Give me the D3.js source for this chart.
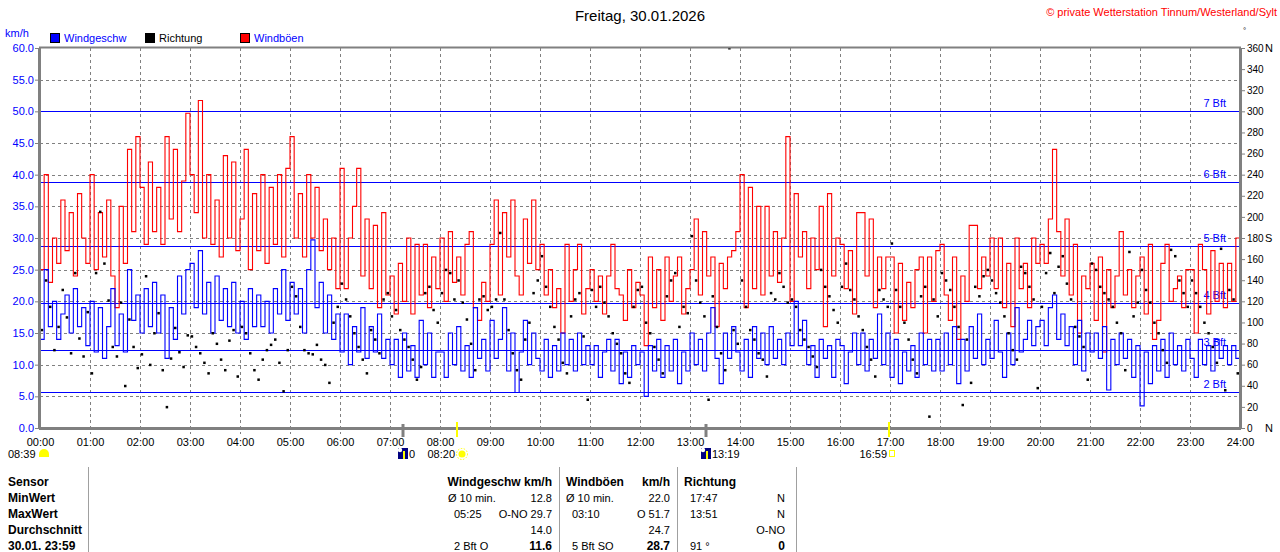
<!DOCTYPE html>
<html lang="de">
<head>
<meta charset="UTF-8">
<title>Wind Freitag, 30.01.2026</title>
<script src="https://d3js.org/d3.v7.min.js"></script>
<style>
  body { margin: 0; background: #fff; }
  svg { display: block; font-family: "Liberation Sans", Arial, sans-serif; }
</style>
</head>
<body>
<svg id="chart" width="1280" height="552"></svg>
<script>
// 5-minute readings, one row per hour (00:00 ... 23:55), last value = 24:00
const gusts = [
  25, 40, 23, 30, 26, 36, 28, 34, 24, 37, 30, 26,
  40, 25, 34, 27, 36, 24, 19, 35, 26, 44, 31, 46,
  38, 29, 42, 31, 38, 29, 46, 33, 44, 31, 39, 49.7,
  40, 34, 51.7, 30, 40, 29, 36, 27, 43, 30, 42, 28,
  33, 44, 25, 37, 28, 40, 26, 38, 29, 40, 27, 41,
  46, 30, 37, 27, 40, 30, 38, 28, 33, 25, 30, 22,
  41, 22, 30, 35, 41, 24, 33, 22, 32, 19, 34, 21,
  24, 18, 26, 20, 30, 18, 29, 21, 29, 19, 27, 22,
  30, 20, 31, 23, 27, 21, 29, 31, 19, 17, 23, 20,
  29, 36, 21, 34, 27, 36, 24, 21, 33, 26, 36, 25,
  29, 21, 25, 19, 22, 15, 29, 20, 25, 29, 18, 22,
  25, 20, 24, 18, 24, 29, 22, 21, 17, 25, 19, 23,
  21, 13, 27, 19, 25, 17, 27, 20, 24, 27, 18, 22,
  25, 33, 21, 31, 24, 27, 16, 26, 22, 27, 28, 31,
  40, 19, 38, 22, 35, 21, 35, 24, 31, 23, 30, 46,
  20, 37, 27, 31, 22, 30, 25, 35, 16, 37, 24, 30,
  29, 22, 28, 18, 34, 34, 24, 33, 19, 27, 22, 27,
  27, 15, 26, 17, 23, 19, 25, 27, 15, 27, 20, 28,
  29, 21, 17, 27, 14, 24, 20, 32, 32, 22, 27, 24,
  30, 22, 30, 19, 26, 16, 30, 22, 26, 19, 30, 26,
  29, 26, 33, 44, 31, 24, 33, 21, 29, 15, 24, 22,
  26, 17, 27, 12, 25, 19, 24, 31, 21, 25, 19, 24,
  27, 18, 29, 14, 17, 26, 29, 20, 22, 24, 19, 25,
  25, 15, 29, 25, 18, 28, 20, 26, 19, 26, 20, 30,
  26
];

const windSpeed = [
  14, 25, 16, 20, 14, 18, 21, 15, 22, 16, 19, 13,
  20, 12, 19, 11, 16, 22, 13, 18, 12, 25, 17, 21,
  15, 22, 16, 23, 15, 21, 11, 19, 14, 24, 18, 25,
  26, 19, 28, 18, 23, 15, 24, 17, 22, 16, 23, 15,
  20, 14, 22, 16, 21, 16, 20, 15, 22, 18, 25, 17,
  23, 18, 22, 15, 25, 29.7, 19, 23, 15, 21, 14, 18,
  12, 18, 10, 16, 12, 19, 11, 16, 12, 18, 11, 14,
  10, 14, 8, 15, 9, 13, 8, 17, 10, 15, 8, 12,
  12, 8, 15, 10, 16, 9, 13, 8, 19, 11, 14, 9,
  17, 11, 14, 19, 9, 15, 5.6, 12, 17, 10, 15, 11,
  9, 14, 8, 13, 9, 15, 10, 14, 9, 15, 10, 13,
  10, 13, 8, 12, 14, 9, 14, 7, 12, 8, 13, 10,
  12, 5, 13, 9, 14, 8, 13, 9, 14, 7, 12, 9,
  15, 10, 14, 9, 15, 19, 11, 7, 15, 11, 16, 12,
  9, 14, 8, 16, 11, 15, 10, 16, 11, 14, 10, 15,
  13, 20, 13, 17, 10, 13, 8, 14, 11, 13, 8, 14,
  13, 7, 12, 15, 10, 15, 9, 14, 11, 18, 10, 15,
  8, 14, 7, 12, 9, 13, 8, 15, 10, 14, 9, 14,
  9, 15, 10, 16, 7, 14, 9, 16, 11, 18, 10, 14,
  11, 17, 12, 8, 15, 10, 19, 12, 14, 17, 13, 16,
  17, 13, 19, 21, 14, 18, 13, 16, 10, 17, 9, 15,
  12, 15, 11, 16, 6, 14, 10, 15, 11, 14, 8, 13,
  3.5, 12, 7, 13, 9, 14, 8, 15, 10, 13, 9, 14,
  11, 8, 14, 10, 13, 9, 14, 11, 13, 10, 13, 11,
  12
];

// wind direction in degrees
const direction = [
  93, 140, 115, 74, 96, 131, 105, 71, 147, 85, 68, 110,
  52, 147, 205, 156, 121, 77, 68, 119, 40, 103, 77, 57,
  70, 144, 60, 90, 109, 55, 20, 66, 95, 72, 58, 88,
  87, 77, 71, 62, 52, 90, 80, 65, 55, 83, 93, 49,
  96, 90, 71, 55, 46, 65, 74, 79, 84, 62, 35, 74,
  134, 125, 96, 74, 71, 70, 79, 65, 60, 43, 100, 115,
  137, 122, 106, 90, 77, 65, 52, 93, 84, 71, 122, 128,
  106, 112, 93, 84, 77, 65, 46, 58, 128, 134, 112, 100,
  128, 150, 147, 122, 140, 119, 103, 80, 55, 122, 125, 112,
  115, 122, 185, 122, 93, 71, 55, 46, 84, 100, 128, 140,
  163, 134, 115, 96, 84, 62, 52, 106, 122, 128, 87, 27,
  131, 115, 134, 119, 106, 90, 80, 71, 52, 43, 115, 131,
  134, 100, 90, 77, 65, 52, 125, 140, 147, 96, 115, 109,
  182, 140, 119, 106, 27, 125, 96, 71, 55, 360, 93, 80,
  140, 115, 93, 84, 71, 65, 49, 128, 122, 147, 134, 119,
  122, 115, 93, 84, 77, 68, 58, 150, 134, 125, 112, 100,
  134, 156, 131, 122, 106, 93, 77, 65, 49, 131, 122, 115,
  175, 131, 115, 100, 84, 65, 52, 125, 134, 11, 122, 106,
  147, 140, 131, 115, 96, 22, 84, 43, 134, 125, 144, 150,
  140, 128, 119, 106, 90, 74, 65, 153, 147, 134, 122, 38,
  115, 147, 166, 128, 153, 163, 137, 122, 96, 87, 77, 46,
  156, 150, 134, 128, 122, 115, 100, 90, 55, 167, 106, 119,
  150, 131, 119, 100, 90, 74, 62, 169, 163, 140, 128, 115,
  140, 128, 115, 100, 90, 77, 62, 170, 36, 131, 122, 52
];

const hourLabels = ["00:00","01:00","02:00","03:00","04:00","05:00","06:00","07:00","08:00",
  "09:00","10:00","11:00","12:00","13:00","14:00","15:00","16:00","17:00","18:00","19:00",
  "20:00","21:00","22:00","23:00","24:00"];
const kmhTicks = [0, 5, 10, 15, 20, 25, 30, 35, 40, 45, 50, 55, 60];
const degTicks = [0, 20, 40, 60, 80, 100, 120, 140, 160, 180, 200, 220, 240, 260, 280, 300, 320, 340, 360];
const degNames = { 0: "N", 180: "S", 360: "N" };
const bftLevels = [5.76, 12.24, 19.8, 28.8, 38.88, 50.04];
const bftNames = ["2 Bft", "3 Bft", "4 Bft", "5 Bft", "6 Bft", "7 Bft"];

const tableLabels = ["Sensor", "MinWert", "MaxWert", "Durchschnitt", "30.01. 23:59"];
const speedCol = [["", "Windgeschw km/h"], ["Ø 10 min.", "12.8"], ["05:25", "O-NO 29.7"], ["", "14.0"], ["2 Bft O", "11.6"]];
const gustCol = [["Windböen", "km/h"], ["Ø 10 min.", "22.0"], ["03:10", "O 51.7"], ["", "24.7"], ["5 Bft SO", "28.7"]];
const dirCol = [["Richtung", ""], ["17:47", "N"], ["13:51", "N"], ["", "O-NO"], ["91 °", "0"]];

const svg = d3.select("#chart");
const plotLeft = 40, plotRight = 1240, plotTop = 48, plotBottom = 428;

const x = d3.scaleLinear().domain([0, 1440]).range([plotLeft, plotRight]);
const y = d3.scaleLinear().domain([0, 60]).range([plotBottom, plotTop]);
const yDir = d3.scaleLinear().domain([0, 360]).range([plotBottom, plotTop]);
const minutes = i => i * 5;
const parseTime = s => { const p = s.split(":"); return +p[0] * 60 + +p[1]; };

// title & header texts
svg.append("text").attr("x", 640).attr("y", 21).attr("text-anchor", "middle")
  .attr("font-size", 15).attr("fill", "#000").text("Freitag, 30.01.2026");
svg.append("text").attr("x", 1277).attr("y", 16).attr("text-anchor", "end")
  .attr("font-size", 11).attr("fill", "#ff0000").text("© private Wetterstation Tinnum/Westerland/Sylt");
svg.append("text").attr("x", 1243).attr("y", 33).attr("font-size", 8).text("°");
svg.append("text").attr("x", 5).attr("y", 37).attr("font-size", 11).attr("fill", "#0000ff").text("km/h");

const legend = [
  { name: "Windgeschw", color: "#0000ff", text: "#0000ff", x: 50 },
  { name: "Richtung", color: "#000000", text: "#000000", x: 145 },
  { name: "Windböen", color: "#ff0000", text: "#0000ff", x: 240 }
];
legend.forEach(l => {
  svg.append("rect").attr("x", l.x + 0.5).attr("y", 33.5).attr("width", 9).attr("height", 9)
    .attr("fill", l.color).attr("stroke", "#000");
  svg.append("text").attr("x", l.x + 14).attr("y", 42).attr("font-size", 11)
    .attr("fill", l.text).text(l.name);
});

// grid
const grid = svg.append("g").attr("stroke", "#808080").attr("stroke-dasharray", "3,3");
grid.selectAll(".vg").data(d3.range(1, 24)).enter().append("line")
  .attr("x1", d => Math.round(x(d * 60)) + 0.5).attr("x2", d => Math.round(x(d * 60)) + 0.5)
  .attr("y1", plotTop).attr("y2", plotBottom + 6);
grid.selectAll(".hg").data(kmhTicks.slice(1, -1)).enter().append("line")
  .attr("x1", plotLeft).attr("x2", plotRight)
  .attr("y1", d => Math.round(y(d)) + 0.5).attr("y2", d => Math.round(y(d)) + 0.5);

// Beaufort lines
svg.selectAll(".bft").data(bftLevels).enter().append("line")
  .attr("x1", plotLeft).attr("x2", plotRight)
  .attr("y1", d => Math.round(y(d)) + 0.5).attr("y2", d => Math.round(y(d)) + 0.5)
  .attr("stroke", "#0000ff").attr("stroke-width", 1.2);
svg.selectAll(".bftl").data(bftLevels).enter().append("text")
  .attr("x", 1226).attr("y", d => y(d) - 4).attr("text-anchor", "end")
  .attr("font-size", 11).attr("fill", "#0000ff").text((d, i) => bftNames[i]);

// series
const line = d3.line().x((d, i) => x(minutes(i))).y(d => y(d)).curve(d3.curveStepAfter);
svg.append("path").datum(gusts).attr("d", line).attr("fill", "none")
  .attr("stroke", "#ff0000").attr("stroke-width", 1.1);
svg.append("path").datum(windSpeed).attr("d", line).attr("fill", "none")
  .attr("stroke", "#0000ff").attr("stroke-width", 1.1);
svg.selectAll(".dir").data(direction).enter().append("rect")
  .attr("x", (d, i) => x(minutes(i) + 2) - 1).attr("y", d => yDir(d) - 1)
  .attr("width", 2.5).attr("height", 2.5).attr("fill", "#000");

// axes
const axisLeft = svg.append("g").attr("transform", `translate(${plotLeft},0)`)
  .call(d3.axisLeft(y).tickValues(kmhTicks).tickFormat(d3.format(".1f")).tickSize(5).tickPadding(1));
axisLeft.selectAll("text").attr("fill", "#0000ff").attr("font-size", 11).attr("font-family", "Liberation Sans, Arial");
const axisRight = svg.append("g").attr("transform", `translate(${plotRight},0)`)
  .call(d3.axisRight(yDir).tickValues(degTicks).tickFormat(d => d).tickSize(5).tickPadding(2));
axisRight.selectAll("text").attr("fill", "#000").attr("font-size", 10).attr("font-family", "Liberation Sans, Arial");
axisRight.selectAll(".tick").filter(d => degNames[d] !== undefined).append("text")
  .attr("x", 25).attr("dy", "0.32em").attr("fill", "#000").attr("font-size", 11)
  .attr("font-family", "Liberation Sans, Arial").text(d => degNames[d]);
const axisBottom = svg.append("g").attr("transform", `translate(0,${plotBottom})`)
  .call(d3.axisBottom(x).tickValues(d3.range(0, 1441, 60)).tickFormat((d, i) => hourLabels[i]).tickSize(0).tickPadding(10));
axisBottom.selectAll("text").attr("fill", "#000").attr("font-size", 11).attr("font-family", "Liberation Sans, Arial");
[axisLeft, axisRight, axisBottom].forEach(a => {
  a.select(".domain").remove();
  a.selectAll("line").attr("stroke", "#808080");
});

// frame
const frame = svg.append("g").attr("stroke", "#808080").attr("fill", "none");
frame.append("line").attr("x1", plotLeft - 1).attr("x2", plotRight + 1).attr("y1", plotTop - 0.5).attr("y2", plotTop - 0.5).attr("stroke-width", 2);
frame.append("line").attr("x1", plotLeft - 1).attr("x2", plotRight + 1).attr("y1", plotBottom + 0.5).attr("y2", plotBottom + 0.5).attr("stroke-width", 3);
frame.append("line").attr("x1", plotLeft - 0.5).attr("x2", plotLeft - 0.5).attr("y1", plotTop).attr("y2", plotBottom).attr("stroke-width", 3);
frame.append("line").attr("x1", plotRight + 0.5).attr("x2", plotRight + 0.5).attr("y1", plotTop).attr("y2", plotBottom).attr("stroke-width", 3);

// sun & moon events
const events = [
  { time: "07:16", kind: "moon", label: "0" },
  { time: "08:20", kind: "sunrise", label: "08:20" },
  { time: "13:19", kind: "moon", label: "13:19" },
  { time: "16:59", kind: "sunset", label: "16:59" }
];
events.forEach(e => {
  const ex = Math.round(x(parseTime(e.time)));
  if (e.kind === "moon") {
    svg.append("line").attr("x1", ex).attr("x2", ex).attr("y1", 424).attr("y2", 437)
      .attr("stroke", "#808080").attr("stroke-width", 3);
    svg.append("rect").attr("x", ex - 5).attr("y", 448).attr("width", 10).attr("height", 11).attr("fill", "#000080");
    svg.append("circle").attr("cx", ex - 3).attr("cy", 450).attr("r", 2.2).attr("fill", "#ffffff");
    svg.append("line").attr("x1", ex + 1).attr("x2", ex + 1).attr("y1", 451).attr("y2", 459)
      .attr("stroke", "#ffff00").attr("stroke-width", 2);
    svg.append("text").attr("x", ex + 6).attr("y", 458).attr("font-size", 11).text(e.label);
  } else {
    svg.append("line").attr("x1", ex).attr("x2", ex).attr("y1", 422).attr("y2", 437)
      .attr("stroke", "#ffff00").attr("stroke-width", 2);
    svg.append("text").attr("x", ex - 2).attr("y", 458).attr("text-anchor", "end").attr("font-size", 11).text(e.label);
    if (e.kind === "sunrise") {
      svg.append("circle").attr("cx", ex + 5).attr("cy", 454).attr("r", 3.5).attr("fill", "#ffff00");
      svg.append("circle").attr("cx", ex + 5).attr("cy", 454).attr("r", 5.5).attr("fill", "none")
        .attr("stroke", "#ffff00").attr("stroke-dasharray", "1.5,1.5");
    } else {
      svg.append("rect").attr("x", ex + 0.5).attr("y", 450.5).attr("width", 5).attr("height", 6)
        .attr("fill", "none").attr("stroke", "#ffff00");
    }
  }
});
// day length
svg.append("text").attr("x", 8).attr("y", 458).attr("font-size", 11).text("08:39");
svg.append("path").attr("d", "M39,457 L49,457 L49,454 A5,5 0 0 0 39,454 Z").attr("fill", "#ffff00");

// table
const tableY = [486, 502, 518, 534, 550];
const sep = svg.append("g").attr("stroke", "#a0a0a0");
[88.5, 559.5, 677.5, 796.5].forEach(sx => sep.append("line").attr("x1", sx).attr("x2", sx).attr("y1", 467).attr("y2", 552));
tableLabels.forEach((t, i) => {
  svg.append("text").attr("x", 8).attr("y", tableY[i]).attr("font-size", 12).attr("font-weight", "bold").text(t);
});
function column(data, xLeft, xRight, indent) {
  data.forEach((r, i) => {
    const header = i === 0, last = i === data.length - 1;
    const lx = (header || r[0].startsWith("Ø")) ? xLeft : xLeft + indent;
    if (r[0]) svg.append("text").attr("x", lx).attr("y", tableY[i])
      .attr("font-size", header ? 12 : 11).attr("font-weight", header ? "bold" : "normal").text(r[0]);
    if (r[1]) svg.append("text").attr("x", xRight).attr("y", tableY[i]).attr("text-anchor", "end")
      .attr("font-size", (header || last) ? 12 : 11).attr("font-weight", (header || last) ? "bold" : "normal").text(r[1]);
  });
}
column(speedCol, 448, 552, 6);
column(gustCol, 566, 670, 6);
column(dirCol, 684, 785, 6);
</script>
</body>
</html>
